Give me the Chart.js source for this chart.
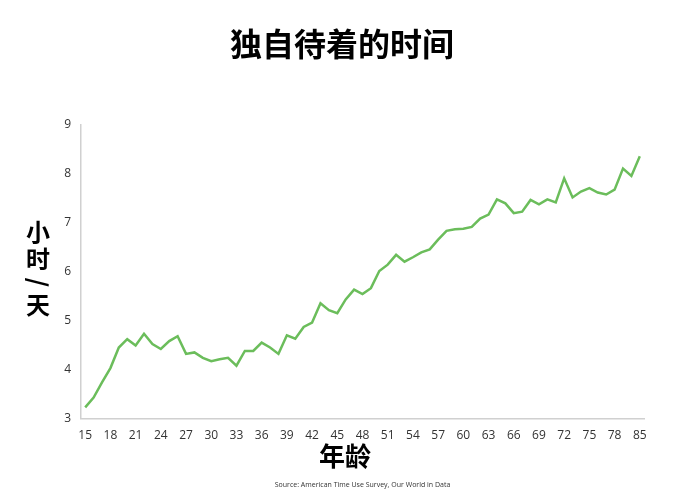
<!DOCTYPE html>
<html>
<head>
<meta charset="utf-8">
<script src="https://cdn.jsdelivr.net/npm/chart.js@4/dist/chart.umd.min.js"></script>
<style>
	html, body { margin: 0; padding: 0; background: #ffffff; }
	#wrap { width: 690px; height: 501px; position: relative; }
</style>
</head>
<body>
<div id="wrap"><canvas id="chart"></canvas></div>
<script>
// ages (80 = 80-84, 85 = 85+)
var ages = [15, 16, 17, 18, 19, 20, 21, 22, 23, 24, 25, 26, 27, 28, 29, 30, 31, 32, 33, 34, 35, 36, 37, 38, 39, 40,
	41, 42, 43, 44, 45, 46, 47, 48, 49, 50, 51, 52, 53, 54, 55, 56, 57, 58, 59, 60, 61, 62, 63, 64, 65, 66, 67, 68, 69, 70,
	71, 72, 73, 74, 75, 76, 77, 78, 79, 80, 85];

// hours per day spent alone
var hoursAlone = [3.23, 3.43, 3.74, 4.03, 4.45, 4.62, 4.49, 4.73, 4.52, 4.42, 4.58, 4.68, 4.32, 4.35, 4.24, 4.17,
	4.21, 4.24, 4.08, 4.38, 4.38, 4.55, 4.45, 4.32, 4.70, 4.63, 4.87, 4.96, 5.35, 5.21, 5.15, 5.43, 5.63, 5.54, 5.66,
	6.01, 6.14, 6.34, 6.20, 6.29, 6.39, 6.45, 6.65, 6.83, 6.86, 6.87, 6.91, 7.08, 7.16, 7.47, 7.39, 7.19, 7.22, 7.46,
	7.37, 7.47, 7.41, 7.90, 7.51, 7.63, 7.70, 7.61, 7.57, 7.67, 8.10, 7.95, 8.35];

var yTicks = [3, 4, 5, 6, 7, 8, 9];

var chartTitle = '独自待着的时间';
var xTitle = '年龄';
var yTitle = ['小', '时', '/', '天'];
var sourceText = 'Source: American Time Use Survey, Our World in Data';

var cjkFont = '"Noto Sans CJK SC", "Noto Sans", sans-serif';
var tickFont = '"Open Sans", "Noto Sans", sans-serif';

// axis titles and source line, placed around the chart area
var axisTitles = {
	id: 'axisTitles',
	afterDraw: function (chart) {
		var ctx = chart.ctx;
		var area = chart.chartArea;
		var offsets = [-40, -13, 11, 33];
		var mid = (area.top + area.bottom) / 2;

		ctx.save();
		ctx.fillStyle = '#000000';
		ctx.textAlign = 'center';
		ctx.textBaseline = 'middle';

		// y title, upright characters stacked
		ctx.font = 'bold 24px ' + cjkFont;
		for (var i = 0; i < yTitle.length; i++) {
			var y = mid + offsets[i];
			if (yTitle[i] === '/') {
				ctx.save();
				ctx.translate(38, y);
				ctx.rotate(Math.PI / 2);
				ctx.fillText(yTitle[i], 0, 0);
				ctx.restore();
			} else {
				ctx.fillText(yTitle[i], 38, y);
			}
		}

		// x title
		ctx.font = 'bold 26px ' + cjkFont;
		ctx.fillText(xTitle, chart.width / 2, area.bottom + 38);

		// source
		ctx.fillStyle = '#333333';
		ctx.font = '7px ' + tickFont;
		ctx.fillText(sourceText, (area.left + area.right) / 2, area.bottom + 66);
		ctx.restore();
	}
};

var context = document.getElementById('chart').getContext('2d');
var chart = new Chart(context, {
	type: 'line',
	data: {
		labels: ages,
		datasets: [{
			data: hoursAlone,
			borderColor: '#6bbd5b',
			borderWidth: 2.5,
			pointRadius: 0,
			tension: 0,
			fill: false
		}]
	},
	options: {
		responsive: true,
		maintainAspectRatio: false,
		animation: false,
		layout: {
			padding: { left: 40, right: 46, top: 0, bottom: 48 }
		},
		plugins: {
			legend: { display: false },
			tooltip: { enabled: false },
			title: {
				display: true,
				text: chartTitle,
				color: '#000000',
				font: { family: cjkFont, size: 32, weight: 'bold' },
				padding: { top: 25, bottom: 61 }
			}
		},
		scales: {
			x: {
				offset: true,
				grid: { display: false, drawTicks: false },
				border: { display: true, color: '#d0d0d0', width: 1.5 },
				ticks: {
					autoSkip: false,
					maxRotation: 0,
					padding: 10,
					color: '#333333',
					font: { family: tickFont, size: 12 },
					callback: function (value, index) {
						return index % 3 === 0 ? ages[index] : null;
					}
				}
			},
			y: {
				min: yTicks[0],
				max: yTicks[yTicks.length - 1],
				grid: { display: false, drawTicks: false },
				border: { display: true, color: '#d0d0d0', width: 1.5 },
				afterFit: function (axis) {
					axis.width = 41;
				},
				afterBuildTicks: function (axis) {
					axis.ticks = yTicks.map(function (v) { return { value: v }; });
				},
				ticks: {
					padding: 10,
					color: '#333333',
					font: { family: tickFont, size: 12 }
				}
			}
		}
	},
	plugins: [axisTitles]
});
</script>
</body>
</html>
